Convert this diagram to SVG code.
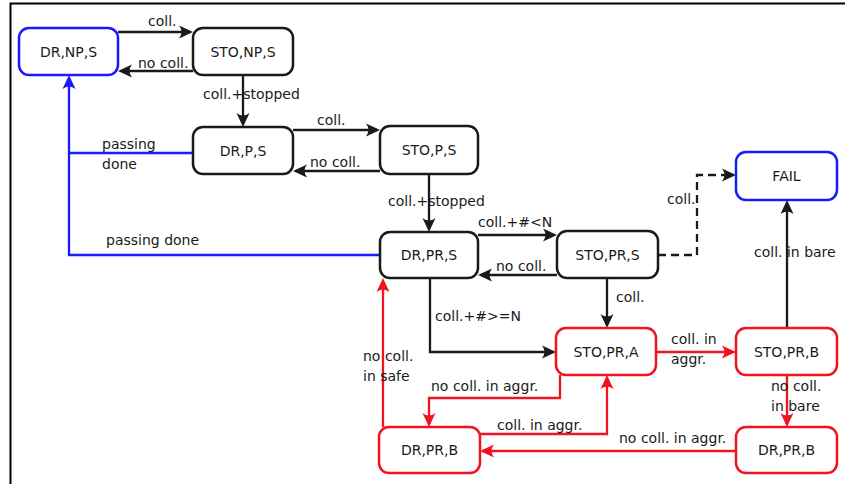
<svg xmlns="http://www.w3.org/2000/svg" width="845" height="484" viewBox="0 0 845 484">
<style>
text{font-family:"DejaVu Sans","Liberation Sans",sans-serif;font-size:14px;fill:#1a1a1a}
.n{text-anchor:middle}
.box{fill:#fff;stroke-width:2.5}
.k{stroke:#1a1a1a}.b{stroke:#1a1aff}.r{stroke:#f0141e}
.e{fill:none;stroke-width:2.3}
</style>
<defs>
<marker id="ak" markerUnits="userSpaceOnUse" markerWidth="20" markerHeight="20" refX="0" refY="0" viewBox="-14 -10 20 20" orient="auto" overflow="visible"><path d="M3,0 L-11,-6.5 Q-6,0 -11,6.5 Z" fill="#1a1a1a"/></marker>
<marker id="ab" markerUnits="userSpaceOnUse" markerWidth="20" markerHeight="20" refX="0" refY="0" viewBox="-14 -10 20 20" orient="auto" overflow="visible"><path d="M3,0 L-11,-6.5 Q-6,0 -11,6.5 Z" fill="#1a1aff"/></marker>
<marker id="ar" markerUnits="userSpaceOnUse" markerWidth="20" markerHeight="20" refX="0" refY="0" viewBox="-14 -10 20 20" orient="auto" overflow="visible"><path d="M3,0 L-11,-6.5 Q-6,0 -11,6.5 Z" fill="#f0141e"/></marker>
</defs>
<rect width="845" height="484" fill="#fff"/>
<path d="M10.5,484 V3.5 H845" fill="none" stroke="#000" stroke-width="2"/>
<g id="connectors">
<path class="e k" d="M118,32 H190" marker-end="url(#ak)"/>
<path class="e k" d="M193,71 H121" marker-end="url(#ak)"/>
<path class="e k" d="M243,76 V124" marker-end="url(#ak)"/>
<path class="e k" d="M293,130 H377" marker-end="url(#ak)"/>
<path class="e k" d="M380,171 H296" marker-end="url(#ak)"/>
<path class="e k" d="M429,174 V229" marker-end="url(#ak)"/>
<path class="e k" d="M478,235 H554" marker-end="url(#ak)"/>
<path class="e k" d="M557,275 H481" marker-end="url(#ak)"/>
<path class="e k" d="M658,255 H697 V175 H733" stroke-dasharray="8,5" marker-end="url(#ak)"/>
<path class="e k" d="M607,278 V325" marker-end="url(#ak)"/>
<path class="e k" d="M430,278 V352 H553" marker-end="url(#ak)"/>
<path class="e r" d="M656,352 H733" marker-end="url(#ar)"/>
<path class="e k" d="M787,328 V203" marker-end="url(#ak)"/>
<path class="e r" d="M787,375 V424" marker-end="url(#ar)"/>
<path class="e r" d="M736,451 H483" marker-end="url(#ar)"/>
<path class="e r" d="M480,434 H607 V378" marker-end="url(#ar)"/>
<path class="e r" d="M560,375 V398 H429 V424" marker-end="url(#ar)"/>
<path class="e r" d="M383,427 V281" marker-end="url(#ar)"/>
<path class="e b" d="M380,255 H69 V78" marker-end="url(#ab)"/>
<path class="e b" d="M193,153 H69"/>
<text x="148" y="26">coll.</text>
<text x="138" y="68">no coll.</text>
<text x="203" y="99">coll.+stopped</text>
<text x="317" y="125">coll.</text>
<text x="310" y="167">no coll.</text>
<text x="388" y="206">coll.+stopped</text>
<text x="478" y="227">coll.+#&lt;N</text>
<text x="496" y="271">no coll.</text>
<text x="667" y="204">coll.</text>
<text x="616" y="302">coll.</text>
<text x="754" y="257">coll. in bare</text>
<text x="435" y="321">coll.+#&gt;=N</text>
<text x="363" y="361">no coll.</text>
<text x="363" y="381">in safe</text>
<text x="431" y="391">no coll. in aggr.</text>
<text x="497" y="430">coll. in aggr.</text>
<text x="671" y="344">coll. in</text>
<text x="671" y="364">aggr.</text>
<text x="771" y="391">no coll.</text>
<text x="771" y="411">in bare</text>
<text x="619" y="443">no coll. in aggr.</text>
<text x="102" y="149">passing</text>
<text x="102" y="169">done</text>
<text x="106" y="245">passing done</text>
</g>
<g id="DR_NP_S"><rect class="box b" x="19" y="28" width="99" height="47" rx="10"/><text class="n" x="68.5" y="56.5">DR,NP,S</text></g>
<g id="STO_NP_S"><rect class="box k" x="193" y="28" width="100" height="47" rx="10"/><text class="n" x="243" y="56.5">STO,NP,S</text></g>
<g id="DR_P_S"><rect class="box k" x="193" y="127" width="100" height="47" rx="10"/><text class="n" x="243" y="155.5">DR,P,S</text></g>
<g id="STO_P_S"><rect class="box k" x="380" y="126" width="98" height="48" rx="10"/><text class="n" x="429" y="155">STO,P,S</text></g>
<g id="DR_PR_S"><rect class="box k" x="380" y="232" width="98" height="46" rx="10"/><text class="n" x="429" y="260">DR,PR,S</text></g>
<g id="STO_PR_S"><rect class="box k" x="557" y="231" width="101" height="47" rx="10"/><text class="n" x="607.5" y="259.5">STO,PR,S</text></g>
<g id="FAIL"><rect class="box b" x="736" y="152" width="101" height="48" rx="10"/><text class="n" x="786.5" y="181">FAIL</text></g>
<g id="STO_PR_A"><rect class="box r" x="556" y="328" width="100" height="47" rx="10"/><text class="n" x="606" y="356.5">STO,PR,A</text></g>
<g id="STO_PR_B"><rect class="box r" x="736" y="328" width="101" height="47" rx="10"/><text class="n" x="786.5" y="356.5">STO,PR,B</text></g>
<g id="DR_PR_B_left"><rect class="box r" x="379" y="427" width="101" height="46" rx="10"/><text class="n" x="429.5" y="455">DR,PR,B</text></g>
<g id="DR_PR_B_right"><rect class="box r" x="736" y="427" width="101" height="46" rx="10"/><text class="n" x="786.5" y="455">DR,PR,B</text></g>
</svg>
